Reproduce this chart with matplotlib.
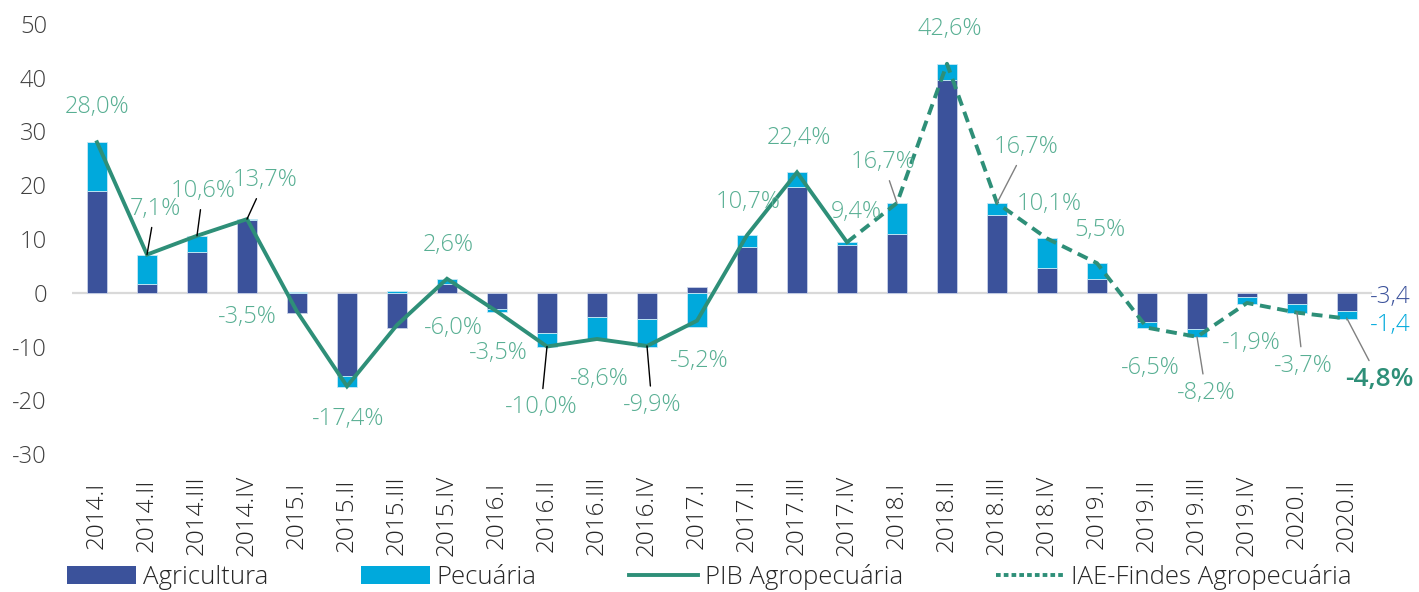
import matplotlib
matplotlib.use('Agg')
import matplotlib.pyplot as plt
import numpy as np
from matplotlib.patches import Patch
from matplotlib.lines import Line2D

plt.rcParams['font.family'] = ['Open Sans', 'DejaVu Sans']
plt.rcParams['font.weight'] = 'light'
plt.rcParams['axes.unicode_minus'] = False

quarters = ['2014.I', '2014.II', '2014.III', '2014.IV',
            '2015.I', '2015.II', '2015.III', '2015.IV',
            '2016.I', '2016.II', '2016.III', '2016.IV',
            '2017.I', '2017.II', '2017.III', '2017.IV',
            '2018.I', '2018.II', '2018.III', '2018.IV',
            '2019.I', '2019.II', '2019.III', '2019.IV',
            '2020.I', '2020.II']

agricultura = [19.0, 1.7, 7.5, 13.6, -3.7, -15.4, -6.5, 1.6,
               -3.1, -7.4, -4.5, -4.8, 1.1, 8.5, 19.7, 8.9,
               11.0, 39.6, 14.5, 4.6, 2.6, -5.4, -6.8, -0.7,
               -2.0, -3.4]
pecuaria = [9.0, 5.4, 3.1, 0.1, 0.2, -2.2, 0.4, 1.0,
            -0.5, -2.6, -4.2, -5.2, -6.4, 2.2, 2.7, 0.5,
            5.7, 3.0, 2.2, 5.5, 2.9, -1.2, -1.5, -1.3,
            -1.8, -1.4]

# PIB Agropecuária: 2014.I .. 2017.IV
pib = [28.0, 7.1, 10.6, 13.7, -3.5, -17.4, -6.0, 2.6,
       -3.5, -10.0, -8.6, -9.9, -5.2, 10.7, 22.4, 9.4]
# IAE-Findes Agropecuária: 2017.IV .. 2020.II
iae = [9.4, 16.7, 42.6, 16.7, 10.1, 5.5, -6.5, -8.2, -1.9, -3.7, -4.8]

# label layout: (dx, dy) in pixels, leader colour (None = no leader)
pib_lbl = [(0, 35, None), (8, 46, 'k'), (6, 45, 'k'), (18, 39, 'k'),
           (-50, -5, None), (1, -33, None), (56, -3, None), (1, 34, None),
           (1, -41, None), (-6, -61, 'k'), (2, -40, None), (5, -59, 'k'),
           (2, -40, None), (1, 33, None), (2, 34, None), (9, 30, None)]
iae_lbl = [None, (-14, 41, '#808080'), (3, 35, None), (29, 56, '#808080'),
           (2, 34, None), (3, 33, None), (3, -40, None), (9, -56, '#808080'),
           (4, -40, None), (6, -53, '#808080'), (32, -61, '#808080')]

c_agri = '#3B529B'
c_pec = '#00A9DC'
c_line = '#2E8F78'
c_lbl = '#58AF93'

fig = plt.figure(figsize=(14.19, 5.92), dpi=100)
ax = fig.add_axes([72 / 1419, 138 / 592, 1300 / 1419, 430 / 592])

x = np.arange(len(quarters))
agri = np.array(agricultura)
pec = np.array(pecuaria)
pec_bottom = np.where(np.sign(pec) == np.sign(agri), agri, 0)

ax.bar(x, agri, width=0.4, color=c_agri, edgecolor='#c9d2e8', linewidth=0.6, zorder=2)
ax.bar(x, pec, width=0.4, bottom=pec_bottom, color=c_pec, edgecolor='#c9e9f5',
       linewidth=0.6, zorder=2)
ax.axhline(0, color='#d9d9d9', lw=1.6, zorder=1)

x_pib = x[:len(pib)]
x_iae = x[len(pib) - 1:]
ax.plot(x_pib, pib, color=c_line, lw=2.8, zorder=3, solid_joinstyle='miter')
ax.plot(x_iae, iae, color=c_line, lw=2.8, ls=(0, (2.8, 1.7)), zorder=3)


def put_labels(xs, vals, layout):
    for xi, v, lay in zip(xs, vals, layout):
        if lay is None:
            continue
        dx, dy, lc = lay
        txt = f'{v:.1f}%'.replace('.', ',')
        last = (xi == x[-1])
        kw = {}
        if lc is not None:
            kw['arrowprops'] = dict(arrowstyle='-', color=lc, lw=1.0,
                                    shrinkA=3, shrinkB=0)
        ax.annotate(txt, xy=(xi, v), xytext=(dx, dy), textcoords='offset pixels',
                    ha='center', va='center', fontsize=19 if last else 17,
                    color=c_line if last else c_lbl,
                    fontweight='semibold' if last else 'light', zorder=4, **kw)


put_labels(x_pib, pib, pib_lbl)
put_labels(x_iae, iae, iae_lbl)

# end labels for the last bar
ax.annotate(f'{agricultura[-1]:.1f}'.replace('.', ','), xy=(x[-1], agricultura[-1] / 2),
            xytext=(23, 5), textcoords='offset pixels', ha='left', va='center',
            fontsize=17.5, color=c_agri, annotation_clip=False)
ax.annotate(f'{pecuaria[-1]:.1f}'.replace('.', ','),
            xy=(x[-1], agricultura[-1] + pecuaria[-1] / 2),
            xytext=(23, -10), textcoords='offset pixels', ha='left', va='center',
            fontsize=17.5, color=c_pec, annotation_clip=False)

ax.set_xlim(-0.5, len(quarters) - 0.5)
ax.set_ylim(-30, 50)
ax.set_yticks(range(-30, 51, 10))
ax.set_xticks(x)
ax.set_xticklabels(quarters, rotation=90, va='center', ha='center', fontsize=17.5,
                   color='#262626')
ax.tick_params(axis='x', length=0, pad=44)
ax.tick_params(axis='y', length=0, pad=18, labelsize=17, labelcolor='#404040')
for s in ax.spines.values():
    s.set_visible(False)

handles = [Patch(facecolor=c_agri), Patch(facecolor=c_pec),
           Line2D([], [], color=c_line, lw=2.8),
           Line2D([], [], color=c_line, lw=2.8, ls=(0, (1.2, 0.8)))]
fig.legend(handles, ['Agricultura', 'Pecuária', 'PIB Agropecuária',
                     'IAE-Findes Agropecuária'],
           loc='center', bbox_to_anchor=(0.5, 1 - 577 / 592), ncol=4,
           frameon=False, fontsize=18.5, handlelength=2.7, handleheight=0.7,
           handletextpad=0.25, columnspacing=3.6, labelcolor='#262626')

fig.savefig('out.png', dpi=100)
